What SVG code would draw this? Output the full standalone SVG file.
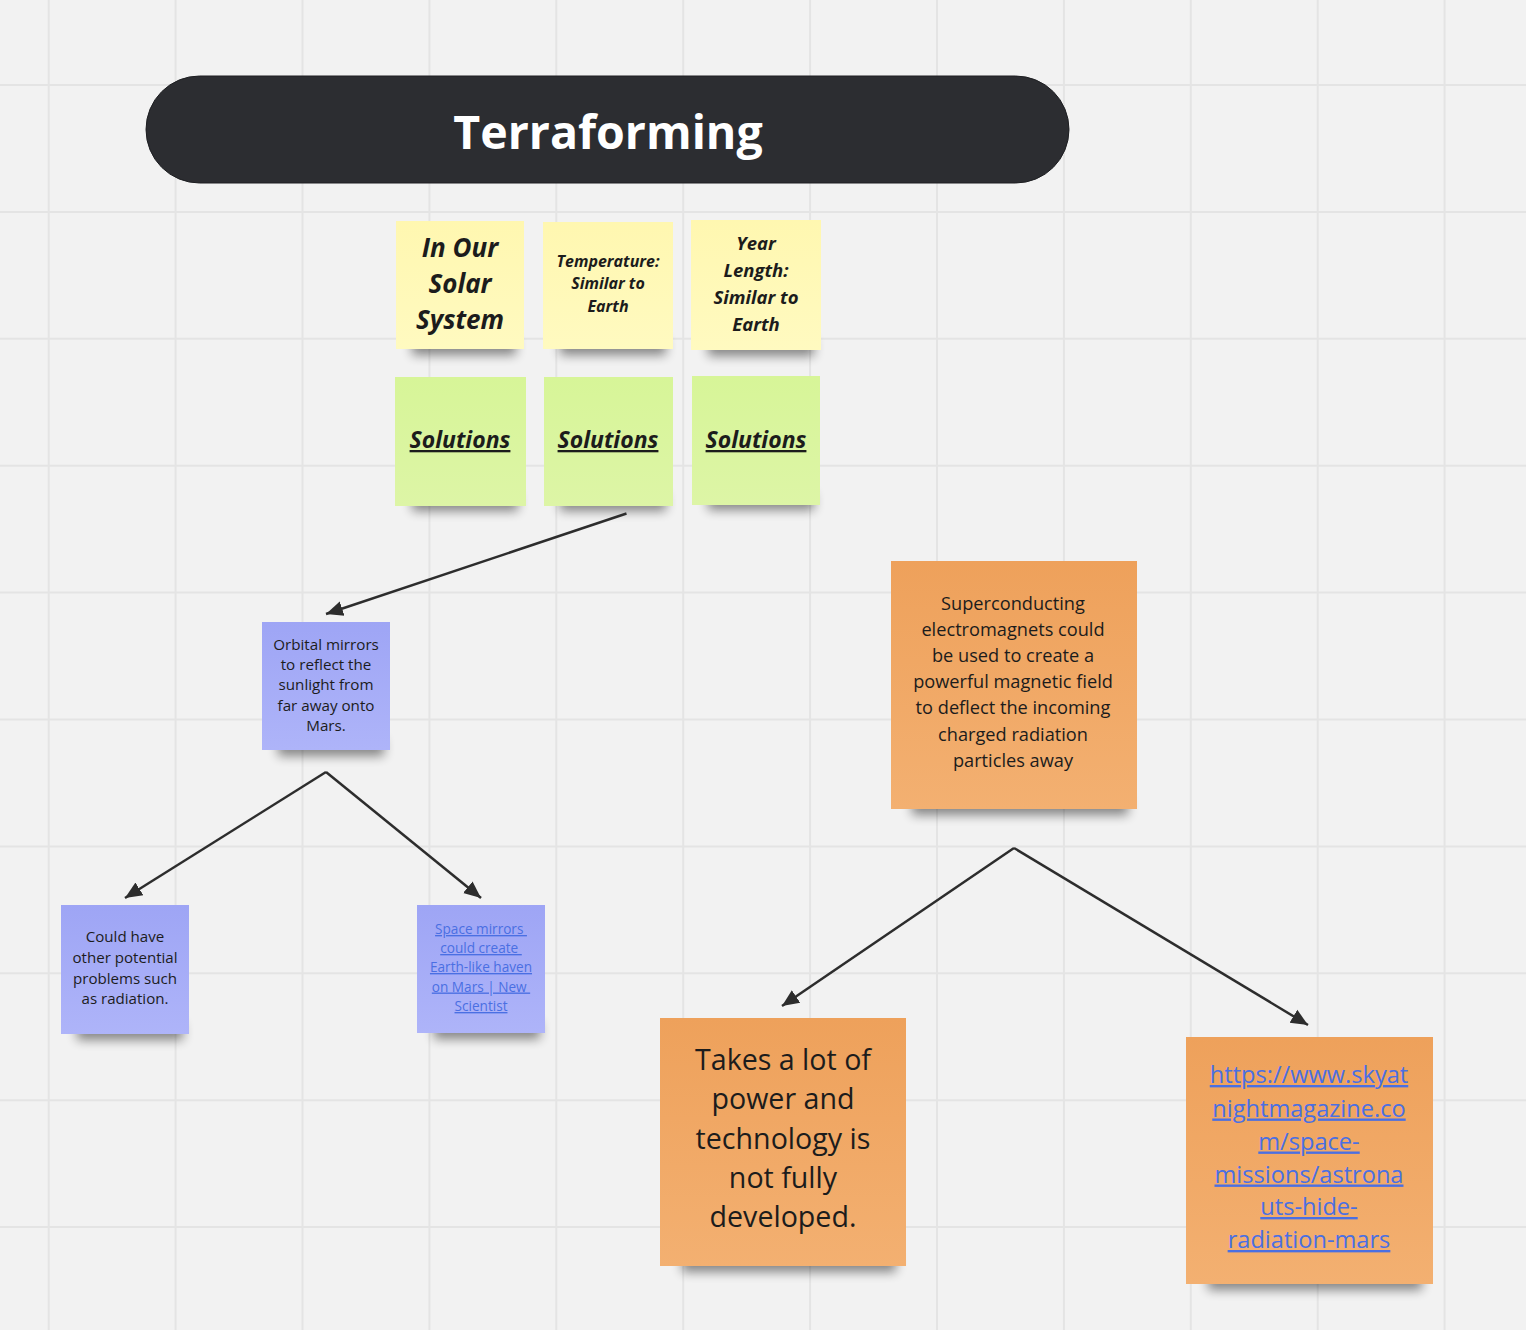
<svg xmlns="http://www.w3.org/2000/svg" width="1526" height="1330" viewBox="0 0 1526 1330">
<defs>
<style>
.grid line{stroke:#e4e4e4;stroke-width:2}
.t{font-family:"Open Sans","Noto Sans","DejaVu Sans",sans-serif;fill:#1c1c1c;text-anchor:middle}
.bi{font-weight:700;font-style:italic}
.u{text-decoration:underline}
.link{fill:#4a6fe3;text-decoration:underline}
.conn line{stroke:#2d2d2d;stroke-width:2.5;fill:none}
.shadow{fill:#000;opacity:.45}
</style>
<filter id="sh" x="-20%" y="-150%" width="140%" height="400%"><feGaussianBlur stdDeviation="5.5"/></filter>
<marker id="ah" markerUnits="userSpaceOnUse" markerWidth="20" markerHeight="20" viewBox="0 0 20 20" refX="17" refY="10" orient="auto"><path d="M0,2.5 L17,10 L0,17.5 Z" fill="#2d2d2d"/></marker>
<linearGradient id="gy" x1="0" y1="0" x2="0" y2="1"><stop offset="0" stop-color="#fff7b0"/><stop offset="1" stop-color="#fffac0"/></linearGradient>
<linearGradient id="gg" x1="0" y1="0" x2="0" y2="1"><stop offset="0" stop-color="#d7f598"/><stop offset="1" stop-color="#ddf5a6"/></linearGradient>
<linearGradient id="gb" x1="0" y1="0" x2="0" y2="1"><stop offset="0" stop-color="#9ea5f5"/><stop offset="1" stop-color="#aeb4f9"/></linearGradient>
<linearGradient id="go" x1="0" y1="0" x2="0" y2="1"><stop offset="0" stop-color="#eea15b"/><stop offset="1" stop-color="#f3b071"/></linearGradient>
</defs>
<rect width="1526" height="1330" fill="#f2f2f2"/>
<g class="grid">
<line x1="48.7" y1="0" x2="48.7" y2="1330"/><line x1="175.6" y1="0" x2="175.6" y2="1330"/><line x1="302.5" y1="0" x2="302.5" y2="1330"/><line x1="429.4" y1="0" x2="429.4" y2="1330"/><line x1="556.3" y1="0" x2="556.3" y2="1330"/><line x1="683.2" y1="0" x2="683.2" y2="1330"/><line x1="810.1" y1="0" x2="810.1" y2="1330"/><line x1="937" y1="0" x2="937" y2="1330"/><line x1="1063.9" y1="0" x2="1063.9" y2="1330"/><line x1="1190.8" y1="0" x2="1190.8" y2="1330"/><line x1="1317.7" y1="0" x2="1317.7" y2="1330"/><line x1="1444.6" y1="0" x2="1444.6" y2="1330"/>
<line x1="0" y1="85" x2="1526" y2="85"/><line x1="0" y1="211.9" x2="1526" y2="211.9"/><line x1="0" y1="338.8" x2="1526" y2="338.8"/><line x1="0" y1="465.7" x2="1526" y2="465.7"/><line x1="0" y1="592.6" x2="1526" y2="592.6"/><line x1="0" y1="719.5" x2="1526" y2="719.5"/><line x1="0" y1="846.4" x2="1526" y2="846.4"/><line x1="0" y1="973.3" x2="1526" y2="973.3"/><line x1="0" y1="1100.2" x2="1526" y2="1100.2"/><line x1="0" y1="1227.1" x2="1526" y2="1227.1"/>
</g>

<g id="title">
<rect x="146" y="76" width="923" height="107" rx="53.5" fill="#2c2d31" stroke="#1e1f22" stroke-width="1"/>
<text class="t" x="608" y="149" font-size="46.5" font-weight="700" style="fill:#ffffff">Terraforming</text>
</g>

<g id="note-solar">
<rect class="shadow" x="412" y="338" width="104" height="17" filter="url(#sh)"/>
<rect x="396" y="221" width="128" height="128" fill="url(#gy)"/>
<text class="t bi" font-size="26"><tspan x="460" y="257">In Our</tspan><tspan x="460" y="293">Solar</tspan><tspan x="460" y="329">System</tspan></text>
</g>
<g id="note-temp">
<rect class="shadow" x="560" y="338" width="106" height="17" filter="url(#sh)"/>
<rect x="543" y="222" width="130" height="127" fill="url(#gy)"/>
<text class="t bi" font-size="16"><tspan x="608" y="267">Temperature:</tspan><tspan x="608" y="289">Similar to</tspan><tspan x="608" y="312">Earth</tspan></text>
</g>
<g id="note-year">
<rect class="shadow" x="708" y="339" width="106" height="17" filter="url(#sh)"/>
<rect x="691" y="220" width="130" height="130" fill="url(#gy)"/>
<text class="t bi" font-size="18.5"><tspan x="756" y="250">Year</tspan><tspan x="756" y="277">Length:</tspan><tspan x="756" y="304">Similar to</tspan><tspan x="756" y="331">Earth</tspan></text>
</g>

<g id="sol-1">
<rect class="shadow" x="412" y="494" width="106" height="17" filter="url(#sh)"/>
<rect x="395" y="377" width="131" height="129" fill="url(#gg)"/>
<text class="t bi u" x="460" y="448" font-size="23">Solutions</text>
</g>
<g id="sol-2">
<rect class="shadow" x="560" y="494" width="106" height="17" filter="url(#sh)"/>
<rect x="544" y="377" width="129" height="129" fill="url(#gg)"/>
<text class="t bi u" x="608" y="448" font-size="23">Solutions</text>
</g>
<g id="sol-3">
<rect class="shadow" x="708" y="493" width="106" height="17" filter="url(#sh)"/>
<rect x="692" y="376" width="128" height="129" fill="url(#gg)"/>
<text class="t bi u" x="756" y="448" font-size="23">Solutions</text>
</g>

<g id="orbital">
<rect class="shadow" x="278" y="739" width="106" height="17" filter="url(#sh)"/>
<rect x="262" y="622" width="128" height="128" fill="url(#gb)"/>
<text class="t" font-size="15.2"><tspan x="326" y="649.5">Orbital mirrors</tspan><tspan x="326" y="670">to reflect the</tspan><tspan x="326" y="690">sunlight from</tspan><tspan x="326" y="711">far away onto</tspan><tspan x="326" y="731">Mars.</tspan></text>
</g>
<g id="could-have">
<rect class="shadow" x="77" y="1023" width="106" height="17" filter="url(#sh)"/>
<rect x="61" y="905" width="128" height="129" fill="url(#gb)"/>
<text class="t" font-size="15.1"><tspan x="125" y="942">Could have</tspan><tspan x="125" y="963">other potential</tspan><tspan x="125" y="983.5">problems such</tspan><tspan x="125" y="1004">as radiation.</tspan></text>
</g>
<g id="space-mirrors">
<rect class="shadow" x="434" y="1022" width="106" height="17" filter="url(#sh)"/>
<rect x="417" y="905" width="128" height="128" fill="url(#gb)"/>
<text class="t link" font-size="13.6" xml:space="preserve"><tspan x="481" y="934">Space mirrors </tspan><tspan x="481" y="953">could create </tspan><tspan x="481" y="972">Earth-like haven</tspan><tspan x="481" y="991.5">on Mars | New </tspan><tspan x="481" y="1011">Scientist</tspan></text>
</g>

<g id="superconducting">
<rect class="shadow" x="912" y="796" width="216" height="19" filter="url(#sh)"/>
<rect x="891" y="561" width="246" height="248" fill="url(#go)"/>
<text class="t" font-size="18.2"><tspan x="1013" y="610">Superconducting</tspan><tspan x="1013" y="636">electromagnets could</tspan><tspan x="1013" y="662">be used to create a</tspan><tspan x="1013" y="688">powerful magnetic field</tspan><tspan x="1013" y="714">to deflect the incoming</tspan><tspan x="1013" y="740.5">charged radiation</tspan><tspan x="1013" y="766.5">particles away</tspan></text>
</g>
<g id="takes-power">
<rect class="shadow" x="682" y="1253" width="214" height="19" filter="url(#sh)"/>
<rect x="660" y="1018" width="246" height="248" fill="url(#go)"/>
<text class="t" font-size="28.6"><tspan x="783" y="1070">Takes a lot of</tspan><tspan x="783" y="1109">power and</tspan><tspan x="783" y="1148.5">technology is</tspan><tspan x="783" y="1188">not fully</tspan><tspan x="783" y="1227">developed.</tspan></text>
</g>
<g id="skyatnight">
<rect class="shadow" x="1208" y="1271" width="214" height="19" filter="url(#sh)"/>
<rect x="1186" y="1037" width="247" height="247" fill="url(#go)"/>
<text class="t link" font-size="23.6"><tspan x="1309" y="1083">https://www.skyat</tspan><tspan x="1309" y="1116.5">nightmagazine.co</tspan><tspan x="1309" y="1149.5">m/space-</tspan><tspan x="1309" y="1182.5">missions/astrona</tspan><tspan x="1309" y="1215">uts-hide-</tspan><tspan x="1309" y="1248">radiation-mars</tspan></text>
</g>

<g id="connectors" class="conn">
<line x1="626.5" y1="513.5" x2="326" y2="614" marker-end="url(#ah)"/>
<line x1="326" y1="772" x2="125" y2="898" marker-end="url(#ah)"/>
<line x1="326" y1="772" x2="481" y2="898" marker-end="url(#ah)"/>
<line x1="1014" y1="848" x2="782" y2="1006" marker-end="url(#ah)"/>
<line x1="1014" y1="848" x2="1308" y2="1025" marker-end="url(#ah)"/>
</g>
</svg>
